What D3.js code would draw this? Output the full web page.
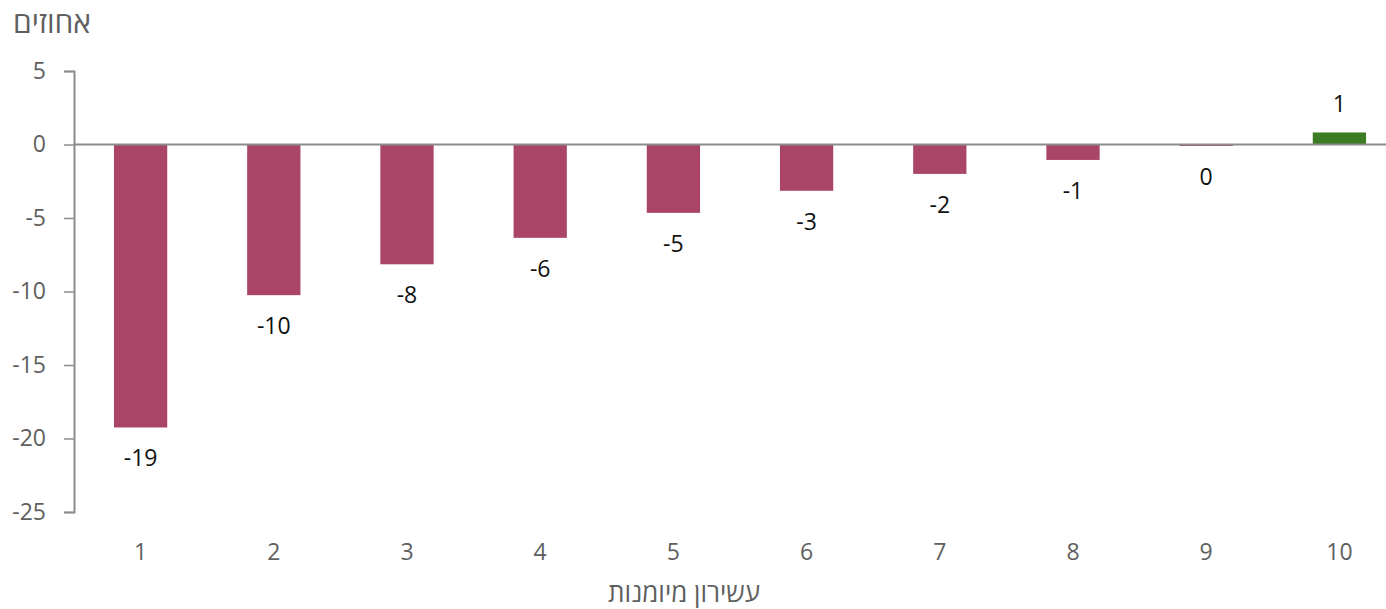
<!DOCTYPE html>
<html>
<head>
<meta charset="utf-8">
<script src="https://cdn.jsdelivr.net/npm/d3@7"></script>
<style>
  body { margin: 0; background: #fff; }
  text { font-family: "Open Sans", "DejaVu Sans", sans-serif; }
</style>
</head>
<body>
<div class="barchart"></div>
<script>
// data
const deciles = ["1", "2", "3", "4", "5", "6", "7", "8", "9", "10"];
const changes = [-19.25, -10.25, -8.15, -6.35, -4.65, -3.15, -2.0, -1.05, -0.1, 0.82];
const yTicks = [5, 0, -5, -10, -15, -20, -25];

// set up size of bar chart
const margin = {top: 71, right: -20, bottom: 97, left: 74},
  width = 1386 - margin.left - margin.right,
  height = 609 - margin.top - margin.bottom;

const x = d3.scaleBand()
  .domain(deciles)
  .range([0, width])
  .paddingInner(0.6)
  .paddingOuter(0.3);

const y = d3.scaleLinear()
  .domain([-25, 5])
  .range([height, 0]);

const svg = d3.select(".barchart").append("svg")
    .attr("width", 1386)
    .attr("height", 609)
  .append("g")
    .attr("transform", "translate(" + margin.left + "," + margin.top + ")");

// y axis
const yAxis = d3.axisLeft(y)
  .tickValues(yTicks)
  .tickSize(10)
  .tickPadding(18)
  .tickFormat(d => String(d));

const yg = svg.append("g").call(yAxis);
yg.select(".domain").attr("stroke", "#8c8c8c").attr("stroke-width", 2);
yg.selectAll(".tick line").attr("stroke", "#8c8c8c").attr("stroke-width", 1.5);
yg.selectAll(".tick text")
  .attr("fill", "#5f5f5f")
  .style("font-size", "23px");

// bars
svg.selectAll(".bar")
  .data(changes)
  .enter().append("rect")
    .attr("class", "bar")
    .attr("x", (d, i) => x(deciles[i]))
    .attr("width", x.bandwidth())
    .attr("y", d => y(Math.max(0, d)))
    .attr("height", d => Math.abs(y(d) - y(0)))
    .attr("fill", d => d >= 0 ? "#3c7d24" : "#ab4568");

// zero line
svg.append("line")
  .attr("x1", 0)
  .attr("x2", width)
  .attr("y1", y(0))
  .attr("y2", y(0))
  .attr("stroke", "#8c8c8c")
  .attr("stroke-width", 2);

// value labels
svg.selectAll(".label")
  .data(changes)
  .enter().append("text")
    .attr("class", "label")
    .attr("x", (d, i) => x(deciles[i]) + x.bandwidth() / 2)
    .attr("y", d => d >= 0 ? y(d) - 20 : y(d) + 39)
    .attr("text-anchor", "middle")
    .attr("fill", "#111")
    .style("font-size", "23px")
    .text(d => String(Math.round(d)));

// x tick labels (no axis line)
svg.selectAll(".xlabel")
  .data(deciles)
  .enter().append("text")
    .attr("class", "xlabel")
    .attr("x", d => x(d) + x.bandwidth() / 2)
    .attr("y", height + 48)
    .attr("text-anchor", "middle")
    .attr("fill", "#5f5f5f")
    .style("font-size", "23px")
    .text(d => d);

// axis titles
d3.select("svg").append("text")
  .attr("x", 13)
  .attr("y", 33)
  .attr("fill", "#5f5f5f")
  .style("font-size", "30px")
  .text("אחוזים");

d3.select("svg").append("text")
  .attr("x", 684)
  .attr("y", 602)
  .attr("text-anchor", "middle")
  .attr("fill", "#5f5f5f")
  .style("font-size", "26px")
  .text("עשירון מיומנות");
</script>
</body>
</html>
